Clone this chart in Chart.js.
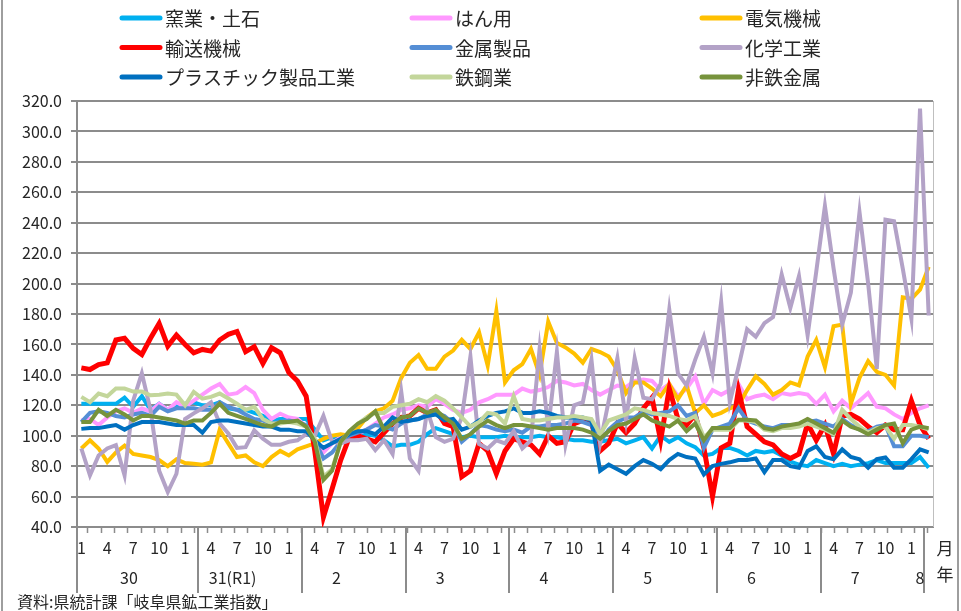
<!DOCTYPE html>
<html lang="ja">
<head>
<meta charset="utf-8">
<script src="https://cdn.jsdelivr.net/npm/chart.js@4.4.1/dist/chart.umd.min.js"></script>
<style>
  html, body { margin: 0; padding: 0; background: #fff; }
  #wrap { width: 961px; height: 611px; position: relative; }
</style>
</head>
<body>
<div id="wrap"><canvas id="chart" width="961" height="611"></canvas></div>
<script>
// 岐阜県鉱工業指数（業種別） — monthly, Jan 2018 .. Mar 2026

// month of each category (Jan 2018 -> Mar 2026)
const months = [
  1,2,3,4,5,6,7,8,9,10,11,12, 1,2,3,4,5,6,7,8,9,10,11,12,
  1,2,3,4,5,6,7,8,9,10,11,12, 1,2,3,4,5,6,7,8,9,10,11,12,
  1,2,3,4,5,6,7,8,9,10,11,12, 1,2,3,4,5,6,7,8,9,10,11,12,
  1,2,3,4,5,6,7,8,9,10,11,12, 1,2,3,4,5,6,7,8,9,10,11,12,
  1,2,3
];
const shownMonths = [1, 4, 7, 10];

// year row of the axis: label, plus the category where the divider line sits
const yearLabels = ['30', '31(R1)', '2', '3', '4', '5', '6', '7', '8'];
const yearBreaks = [14, 26, 38, 50, 62, 74, 86, 98];

// series
const ceramics = [
  121,121,121,121,121,125,119,126,117,121,117,120,121,122,120,120,122,118,117,117,115,113,110,111,111,111,111,104,97,99,98,99,100,
  101,100,97,93,94,94,96,101,105,103,101,99,100,99,99,99,
  100,99,99,99,100,99,99,98,97,97,96,96,97,98,95,97,
  99,91.6,100,96,99,95,92.5,87,88,92,92,90,87,90,89,90,87,
  83,81,80,84,82,80,81.5,80,81,82,84,82,82,82,82,86,79
];
const general = [
  110,111,107,112,116,118,115,118,116,121,117,122,119,123,127,131,
  134,127,128,132,128,117,111,114.5,112,111,106,97,89,95,99,100,101,
  104,108,112,114,117,118,120,119,124,121,117,115,117,122,124,127,
  127,127,131,129,130,132,136,135,133,134,130,127,130,133,132,136,
  137,136,130,134,126,131,139,121,130,127,130,134,124,126,127,124,128,
  127,128,127,121,127,116,123,118,123,128,119,118,114,111,115,118,120
];
const electrical = [
  91.6,97,91.6,82.8,89,93.5,88,87,86,84,80,84.5,82,81.5,81,82.5,
  104,95,86,87,82.5,80,86,90,87,91,93,95,98,100,101,100,105,
  112,116,118,123,138,148,153,144,144,152,156,163,157,168,146,182,
  135,143,147,157,140,175,161,158,154,148,157,155,152,143,128,135,
  135,131,126,134,124,133,115,120,113,115,118,120,130,139,134,127,130,
  135,133,152,163,145,172,173,121,138,149,142,140,133,191,190,196,211
];
const transport = [
  144.6,143.5,146.8,147.9,162.9,164,157.4,153.4,164,173.8,158.9,166.2,160,154.5,156.7,155.6,
  162.9,166.6,168.5,155.2,158.5,147.5,157.8,154.5,141.5,136,126,90,46.5,65,84,99,100,
  98,96,102,108,112,113,118,115,117,108,106,73,77,95,90,75,
  90,98,96,94,88,100,95,96,108,110,108,90,95,108,102,108,
  118,125,97,131,111,107,114,92,60,92,95,130,106,101,96,94,88,
  85,88,108,97,107,88,113,114,111,106,102,107,104,104,123,107,98
];
const metal = [
  109,115,116,115,113,112,114,115,113,119,116,118,118,118,117,117,122,119,117,114,111,110,108,109,110,109,107,97,85,89,96,100,102,
  104,107,106,104,108,110,111,114,115,113,108,96,101,107,106,104,
  103,104,102,106,106,107,107,108,110,109,107,96,104,109,112,112,
  116,114,115,116,120,113,115,92,104,106,108,118,110,108,106,105,107,
  107,107,109,110,108,106,111,107,104,103,106,107,93,93,100,100,99
];
const chemical = [
  91.6,74,87,91.6,93.8,74,123,141,117,77,63,75,111,114.7,118,122,108,101.5,92,92.5,103.5,98,94,94,96,97,101,100,113,96,95,97,97,
  98,90.5,97,88,129,85,77,117,99,96,98,112,152,94.5,91.6,97,
  95,103,91.6,97,157,105,155,94,120,122,150,95,123,151,110,151,
  125,124,134,183,141,133,150,165,141,188,122,145,170,165,174,178,206,
  184,205,166,208,251,210,173,194,247,200,144,242,241,210,177,315,179
];
const plastics = [
  104.5,105,105,106,107,104,107,109,109,109,108,107,107,107,102,109,110,110,109,108,107,106,106,104,104,103,103,97,92,95,98,101,103,
  103,101,106,112,109,110,111,113,114,110,111,104,106,110,113,115,
  116,118,115,115,116,115,113,112,112,112,110,77,81,78,75,80,
  84,81.5,78,84,88,86,85,74.5,80,81.5,82.5,84,84,85,76,84,84,
  80,79,90,93,86,84.6,91,86,84.5,79,84.6,85.7,79,79,84.6,91,89
];
const steel = [
  125.5,122,127.7,126,131,131,129,129,126.6,127,127.7,127,120,128.8,124.4,125.5,
  127.7,124.4,121,117,119,111,108,108,109,108,106,98,73,78,96,103,108,
  112,115,115,119,120,121,124,122,126,123,118,112,106,109,115,114,
  108,126,111,110,110,111,112,112,113,112,111,101,110,112,114,118,
  117,115,114,113,111,110,113,99,104,104,104,110,110,109,104,103,105,
  105,106,108,106,104,101,117,111,106,102,105,106,98,107,107,106,104
];
const nonferrous = [
  109,109,117,113,117,114,110,113,113,112,111,110,108,110,110,115,121,115,113,111,109,107,106,109,109,110,106,96,71,77,96,103,108,
  111,116,104,108,112,113,118,115,117,112,108,98,101,106,110,107,
  105,107,107,106,105,104,105,105,105,104,102,98,103,107,108,111,
  114,110,108,106,110,103,108,97,105,105,105,110.5,110.5,110,105,104,106,
  107,108,111,108,105,102,110,106,104,101,104,107,108,95,104,106,105
];

const seriesNames = ['窯業・土石', 'はん用', '電気機械', '輸送機械', '金属製品', '化学工業', 'プラスチック製品工業', '鉄鋼業', '非鉄金属'];
const seriesData = [ceramics, general, electrical, transport, metal, chemical, plastics, steel, nonferrous];
const seriesColors = ['#00b0f0', '#ff99ff', '#ffc000', '#ff0000', '#558ed5', '#b3a2c7', '#0070c0', '#c3d69b', '#77933c'];

const FONT = '"Noto Sans CJK JP", "Noto Sans", sans-serif';
const GRID = '#8c8c8c';
const TEXT = '#262626';

// legend, footnote, year row, x tick marks and frame are drawn here
const extras = {
  id: 'extras',
  afterDraw(chart) {
    const { ctx, chartArea: a } = chart;
    const x = chart.scales.x;
    const cat = x.getPixelForValue(1) - x.getPixelForValue(0);
    ctx.save();

    // outer frame
    ctx.strokeStyle = '#7f7f7f';
    ctx.lineWidth = 1.5;
    ctx.beginPath();
    ctx.moveTo(2, 0); ctx.lineTo(2, 611);
    ctx.moveTo(958, 0); ctx.lineTo(958, 611);
    ctx.stroke();

    // right edge of the plot area
    ctx.strokeStyle = '#bfbfbf';
    ctx.lineWidth = 1;
    ctx.beginPath();
    ctx.moveTo(a.right + 0.5, a.top); ctx.lineTo(a.right + 0.5, a.bottom);
    ctx.stroke();

    // small tick marks under the axis (the original spaces them ~1.54 months apart)
    ctx.strokeStyle = GRID;
    ctx.lineWidth = 1.5;
    ctx.beginPath();
    for (let t = a.left - 3 + cat * 1.542; t < a.right - 2; t += cat * 1.542) {
      const px = Math.round(t) + 0.5;
      ctx.moveTo(px, a.bottom); ctx.lineTo(px, a.bottom + 6);
    }
    ctx.stroke();

    // year dividers (and the axis line continued down)
    ctx.lineWidth = 2;
    ctx.beginPath();
    ctx.moveTo(a.left, a.bottom); ctx.lineTo(a.left, 593);
    yearBreaks.forEach((b) => {
      const px = Math.round(x.getPixelForValue(b) - cat / 2);
      ctx.moveTo(px, a.bottom); ctx.lineTo(px, 593);
    });
    ctx.stroke();

    // year labels, centred on the calendar year
    ctx.fillStyle = TEXT;
    ctx.font = '16px ' + FONT;
    ctx.textAlign = 'center';
    ctx.textBaseline = 'middle';
    yearLabels.forEach((lab, k) => {
      const first = k * 12;
      const last = Math.min(first + 11, months.length - 1);
      const cx = (x.getPixelForValue(first) + x.getPixelForValue(last)) / 2;
      ctx.fillText(lab, cx, 578);
    });

    // unit marks at the right of the axis
    ctx.font = '17px ' + FONT;
    ctx.fillText('月', 945, 549);
    ctx.fillText('年', 945, 575);

    // footnote
    ctx.textAlign = 'left';
    ctx.font = '16px ' + FONT;
    ctx.fillText('資料:県統計課「岐阜県鉱工業指数」', 17, 602);

    // legend, 3 x 3
    const colX = [120, 410, 700];
    const rowY = [18, 47.5, 77];
    ctx.font = '19px ' + FONT;
    ctx.lineCap = 'round';
    seriesNames.forEach((name, k) => {
      const lx = colX[k % 3];
      const ly = rowY[Math.floor(k / 3)];
      ctx.strokeStyle = seriesColors[k];
      ctx.lineWidth = 5;
      ctx.beginPath();
      ctx.moveTo(lx + 2, ly); ctx.lineTo(lx + 40, ly);
      ctx.stroke();
      ctx.fillStyle = TEXT;
      ctx.fillText(name, lx + 45, ly + 1);
    });

    ctx.restore();
  }
};

new Chart(document.getElementById('chart').getContext('2d'), {
  type: 'line',
  data: {
    labels: months,
    datasets: seriesData.map((d, k) => ({
      label: seriesNames[k],
      data: d,
      borderColor: seriesColors[k],
      backgroundColor: seriesColors[k],
      borderWidth: k === 3 ? 5 : 4,
      pointRadius: 0,
      tension: 0,
      fill: false,
      order: seriesData.length - k, // later series on top, like the original
    })),
  },
  options: {
    responsive: false,
    devicePixelRatio: 1,
    animation: false,
    layout: { padding: { top: 101, right: 28, bottom: 0, left: 0 } },
    plugins: {
      legend: { display: false },
      tooltip: { enabled: false },
    },
    scales: {
      x: {
        type: 'category',
        offset: true,
        afterFit: (s) => { s.height = 84; },
        border: { display: true, color: GRID, width: 2 },
        grid: { offset: true, display: true, drawOnChartArea: false, drawTicks: true, tickLength: 5, color: 'rgba(0,0,0,0)' },
        ticks: {
          autoSkip: false,
          maxRotation: 0,
          padding: 6,
          color: TEXT,
          font: { family: FONT, size: 16 },
          callback: (v, i) => (shownMonths.includes(months[i]) ? String(months[i]) : ''),
        },
      },
      y: {
        min: 40,
        max: 320,
        afterFit: (s) => { s.width = 77; },
        border: { display: true, color: GRID, width: 2 },
        grid: { color: GRID, lineWidth: 2, tickLength: 6 },
        ticks: {
          stepSize: 20,
          padding: 9,
          color: TEXT,
          font: { family: FONT, size: 16 },
          callback: (v) => Number(v).toFixed(1),
        },
      },
    },
  },
  plugins: [extras],
});
</script>
</body>
</html>
